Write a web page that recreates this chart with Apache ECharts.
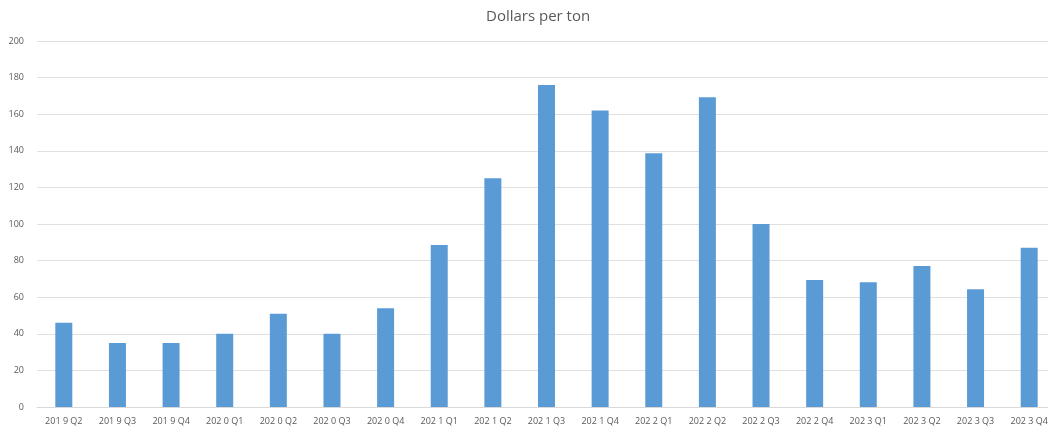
<!DOCTYPE html>
<html>
<head>
<meta charset="utf-8">
<script src="https://cdn.jsdelivr.net/npm/echarts@6/dist/echarts.min.js"></script>
<style>
  html, body { margin: 0; padding: 0; background: #fff; }
  #chart { width: 1048px; height: 430px; }
</style>
</head>
<body>
<div id="chart"></div>
<script>
const quarters = [
  '201 9 Q2', '201 9 Q3', '201 9 Q4',
  '202 0 Q1', '202 0 Q2', '202 0 Q3', '202 0 Q4',
  '202 1 Q1', '202 1 Q2', '202 1 Q3', '202 1 Q4',
  '202 2 Q1', '202 2 Q2', '202 2 Q3', '202 2 Q4',
  '202 3 Q1', '202 3 Q2', '202 3 Q3', '202 3 Q4'
];
const dollarsPerTon = [
  46, 35, 35,
  40, 51, 40, 54,
  88.5, 125, 176, 162,
  138.6, 169.3, 100, 69.4,
  68.2, 77, 64.4, 87
];

const chart = echarts.init(document.getElementById('chart'));
chart.setOption({
  backgroundColor: '#fff',
  animation: false,
  title: {
    text: 'Dollars per ton',
    left: 481,
    top: 4,
    textStyle: { color: '#595959', fontSize: 15, fontWeight: 'normal', fontFamily: 'Open Sans' }
  },
  grid: { left: 37, right: -8, top: 41, bottom: 23, outerBoundsMode: 'none' },
  xAxis: {
    type: 'category',
    data: quarters,
    axisLine: { lineStyle: { color: '#d9d9d9' } },
    axisTick: { show: false },
    axisLabel: { color: '#595959', fontSize: 9, margin: 10, interval: 0, fontFamily: 'Open Sans' }
  },
  yAxis: {
    type: 'value',
    min: 0,
    max: 200,
    interval: 20,
    axisLine: { show: false },
    axisTick: { show: false },
    splitLine: { lineStyle: { color: '#e0e0e0' } },
    axisLabel: { color: '#595959', fontSize: 9, margin: 13, fontFamily: 'Open Sans' }
  },
  series: [{
    type: 'bar',
    data: dollarsPerTon,
    barWidth: 17,
    itemStyle: { color: '#5b9bd5' }
  }]
});
</script>
</body>
</html>
